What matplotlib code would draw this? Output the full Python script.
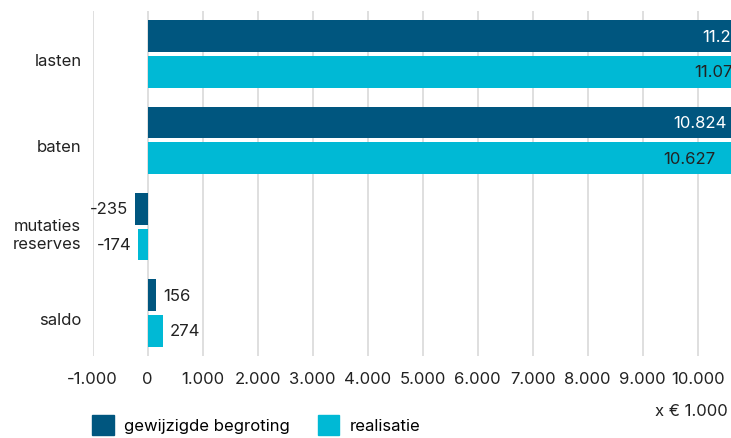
import matplotlib
matplotlib.use("Agg")
import matplotlib.pyplot as plt
import matplotlib.transforms as mtransforms
from matplotlib.patches import Patch
from matplotlib.ticker import FuncFormatter
import numpy as np

# gegevens (x € 1.000)
categorieen = ["lasten", "baten", "mutaties\nreserves", "saldo"]
begroting = [11218, 10824, -235, 156]
realisatie = [11071, 10627, -174, 274]
xticks = list(range(-1000, 11000, 1000))

kleur_begroting = "#00567f"
kleur_realisatie = "#00b9d5"

plt.rcParams["font.family"] = ["Inter", "DejaVu Sans"]
plt.rcParams["font.size"] = 12

fig = plt.figure(figsize=(7.31, 4.39), dpi=100)
# assen lopen rechts door buiten de figuur (afgesneden zoals het origineel)
ax = fig.add_axes([92.7 / 731, 82 / 439, 687.5 / 731, 345 / 439])

y = np.arange(len(categorieen))
h = 0.37
off = 0.207

bars1 = ax.barh(y - off, begroting, height=h, color=kleur_begroting, zorder=3)
bars2 = ax.barh(y + off, realisatie, height=h, color=kleur_realisatie, zorder=3)

def fmt(v):
    return f"{v:,.0f}".replace(",", ".")

def labels(bars, waarden, kleur_binnen):
    for b, v in zip(bars, waarden):
        yc = b.get_y() + b.get_height() / 2
        if abs(v) > 2000:
            ax.annotate(fmt(v), (v, yc), xytext=(-12, 0), textcoords="offset points",
                        ha="right", va="center", color=kleur_binnen, zorder=4)
        elif v < 0:
            ax.annotate(fmt(v), (v, yc), xytext=(-5, 0), textcoords="offset points",
                        ha="right", va="center", color="#222222", zorder=4)
        else:
            ax.annotate(fmt(v), (v, yc), xytext=(5, 0), textcoords="offset points",
                        ha="left", va="center", color="#222222", zorder=4)

labels(bars1, begroting, "white")
labels(bars2, realisatie, "#222222")

ax.set_xlim(-1000, 11500)
ax.set_ylim(len(categorieen) - 0.5, -0.5)
ax.set_xticks(xticks)
ax.xaxis.set_major_formatter(FuncFormatter(lambda v, p: fmt(v)))
ax.set_yticks(y)
ax.set_yticklabels(categorieen, multialignment="center")
ax.tick_params(axis="both", length=0, colors="#222222")
ax.tick_params(axis="x", pad=11)
ax.tick_params(axis="y", pad=8)
# categorielabels iets lager, zoals in het origineel
schuif = mtransforms.ScaledTranslation(0, -5 / 100, fig.dpi_scale_trans)
for t in ax.get_yticklabels():
    t.set_transform(t.get_transform() + schuif)
ax.grid(axis="x", color="#d9d9d9", linewidth=1.2, zorder=0)
for s in ax.spines.values():
    s.set_visible(False)

handles = [Patch(color=kleur_begroting, label="gewijzigde begroting"),
           Patch(color=kleur_realisatie, label="realisatie")]
fig.legend(handles=handles, loc="lower left", bbox_to_anchor=(92 / 731, 3 / 439),
           ncol=2, frameon=False, borderpad=0, borderaxespad=0,
           handlelength=1.3, handleheight=1.5,
           handletextpad=0.6, columnspacing=1.7)

fig.text(728 / 731, 1 - 412 / 439, "x € 1.000", ha="right", va="center", color="#222222")

fig.savefig("out.png", dpi=100)
